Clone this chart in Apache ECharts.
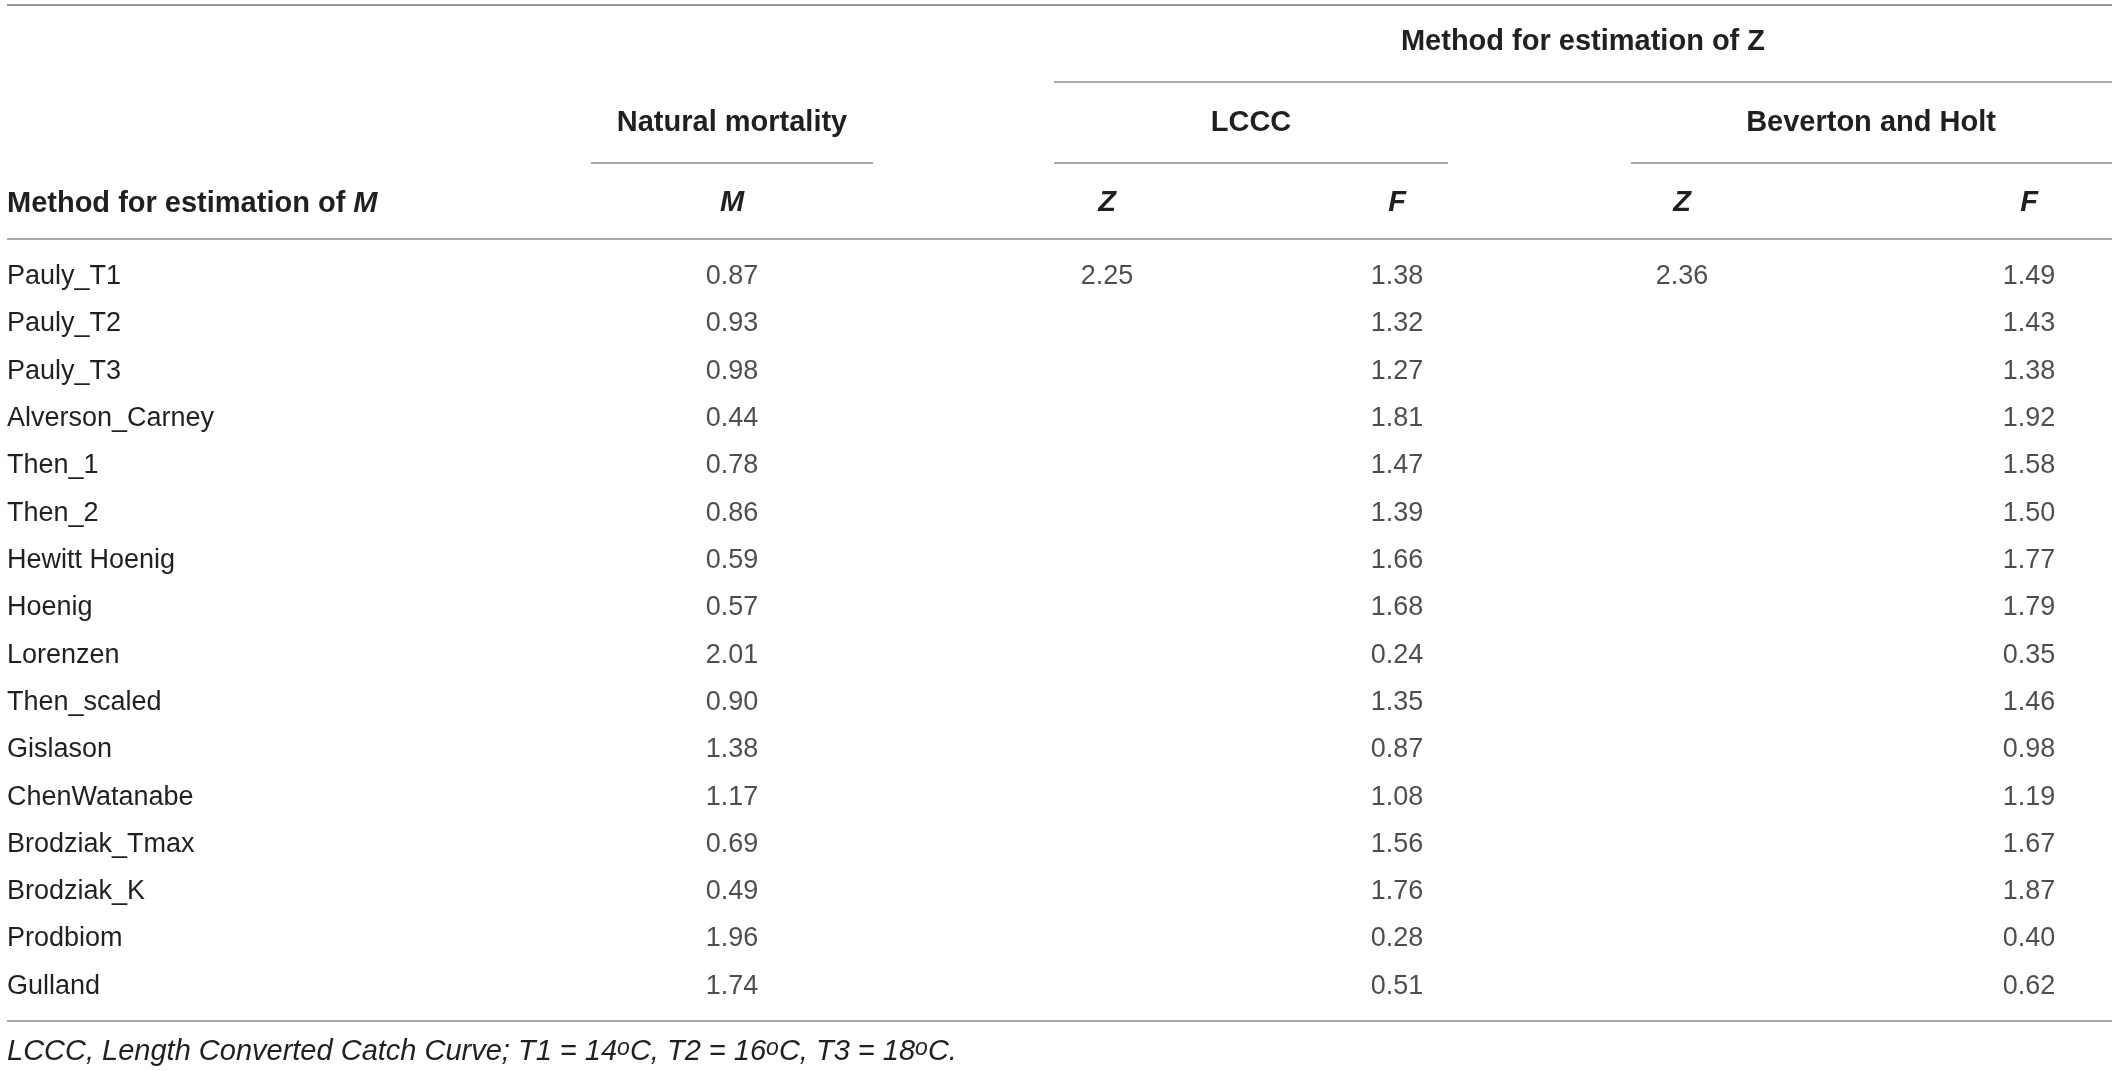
<!DOCTYPE html>
<html>
<head>
<meta charset="utf-8">
<script src="https://cdn.jsdelivr.net/npm/echarts@6/dist/echarts.min.js"></script>
<style>
  html, body { margin: 0; padding: 0; background: #fff; }
  #main { width: 2118px; height: 1071px; }
</style>
</head>
<body>
<div id="main"></div>
<script>
// table data
const methods = [
  'Pauly_T1', 'Pauly_T2', 'Pauly_T3', 'Alverson_Carney', 'Then_1', 'Then_2',
  'Hewitt Hoenig', 'Hoenig', 'Lorenzen', 'Then_scaled', 'Gislason', 'ChenWatanabe',
  'Brodziak_Tmax', 'Brodziak_K', 'Prodbiom', 'Gulland'
]
const mValues = [0.87, 0.93, 0.98, 0.44, 0.78, 0.86, 0.59, 0.57, 2.01, 0.90, 1.38, 1.17, 0.69, 0.49, 1.96, 1.74]
const lcccZ = [2.25] // only given on the first row
const lcccF = [1.38, 1.32, 1.27, 1.81, 1.47, 1.39, 1.66, 1.68, 0.24, 1.35, 0.87, 1.08, 1.56, 1.76, 0.28, 0.51]
const bhZ = [2.36] // only given on the first row
const bhF = [1.49, 1.43, 1.38, 1.92, 1.58, 1.50, 1.77, 1.79, 0.35, 1.46, 0.98, 1.19, 1.67, 1.87, 0.40, 0.62]
const columnHeaders = ['M', 'Z', 'F', 'Z', 'F']
const footnote = 'LCCC, Length Converted Catch Curve; T1 = 14{sup|o}C, T2 = 16{sup|o}C, T3 = 18{sup|o}C.'

const columns = [mValues, lcccZ, lcccF, bhZ, bhF]

// layout
const colCenters = [732, 1107, 1397, 1682, 2029]
const colWidth = 100
const gridTop = 253
const gridHeight = 757
const fontFamily = '"Liberation Sans", Arial, Helvetica, sans-serif'
const textColor = '#231f20'
const ruleColor = '#a8a8a8'

const chart = echarts.init(document.getElementById('main'))

function rule(x1, x2, y, color) {
  return {
    type: 'line',
    shape: { x1: x1, y1: y, x2: x2, y2: y },
    style: { stroke: color || ruleColor, lineWidth: 2 }
  }
}

function headText(text, x, y, align) {
  return {
    type: 'text',
    x: x,
    y: y,
    style: {
      text: text,
      fill: textColor,
      fontFamily: fontFamily,
      fontSize: 29,
      fontWeight: 'bold',
      align: align || 'center',
      verticalAlign: 'middle',
      rich: {
        i: { fontFamily: fontFamily, fontSize: 29, fontWeight: 'bold', fontStyle: 'italic', fill: textColor }
      }
    }
  }
}

const option = {
  animation: false,
  grid: colCenters.map(function (c) {
    return { left: c - colWidth / 2, top: gridTop, width: colWidth, height: gridHeight }
  }),
  xAxis: columnHeaders.map(function (h, i) {
    return {
      type: 'category',
      gridIndex: i,
      position: 'top',
      data: [h],
      axisLine: { show: false },
      axisTick: { show: false },
      splitLine: { show: false },
      axisLabel: {
        margin: 50,
        verticalAlign: 'middle',
        fontSize: 29,
        fontWeight: 'bold',
        fontStyle: 'italic',
        fontFamily: fontFamily,
        color: textColor
      }
    }
  }),
  yAxis: columns.map(function (col, i) {
    return {
      type: 'category',
      gridIndex: i,
      inverse: true,
      data: methods,
      axisLine: { show: false },
      axisTick: { show: false },
      splitLine: { show: false },
      axisLabel: i === 0 ? {
        show: true,
        align: 'left',
        margin: colCenters[0] - colWidth / 2 - 7,
        fontSize: 27,
        fontFamily: fontFamily,
        color: textColor
      } : { show: false }
    }
  }),
  series: columns.map(function (vals, i) {
    return {
      type: 'scatter',
      xAxisIndex: i,
      yAxisIndex: i,
      symbolSize: 1,
      itemStyle: { color: 'rgba(0,0,0,0)' },
      label: {
        show: true,
        position: 'inside',
        fontSize: 27,
        fontFamily: fontFamily,
        color: textColor,
        formatter: function (p) { return p.value[2].toFixed(2) }
      },
      data: vals.map(function (v, r) { return [0, r, v] })
    }
  }),
  graphic: [
    rule(7, 2112, 5, '#999'),
    rule(1054, 2112, 82),
    rule(591, 873, 163),
    rule(1054, 1448, 163),
    rule(1631, 2112, 163),
    rule(7, 2112, 239),
    rule(7, 2112, 1021),
    headText('Method for estimation of Z', 1583, 42),
    headText('Natural mortality', 732, 123),
    headText('LCCC', 1251, 123),
    headText('Beverton and Holt', 1871, 123),
    headText('Method for estimation of {i|M}', 7, 204, 'left'),
    {
      type: 'text',
      x: 7,
      y: 1052,
      style: {
        text: footnote,
        fill: textColor,
        fontFamily: fontFamily,
        fontSize: 29,
        fontStyle: 'italic',
        align: 'left',
        verticalAlign: 'middle',
        rich: {
          sup: { fontFamily: fontFamily, fontSize: 23, fontStyle: 'italic', fill: textColor, verticalAlign: 'top', lineHeight: 22 }
        }
      }
    }
  ]
}

chart.setOption(option)
</script>
</body>
</html>
